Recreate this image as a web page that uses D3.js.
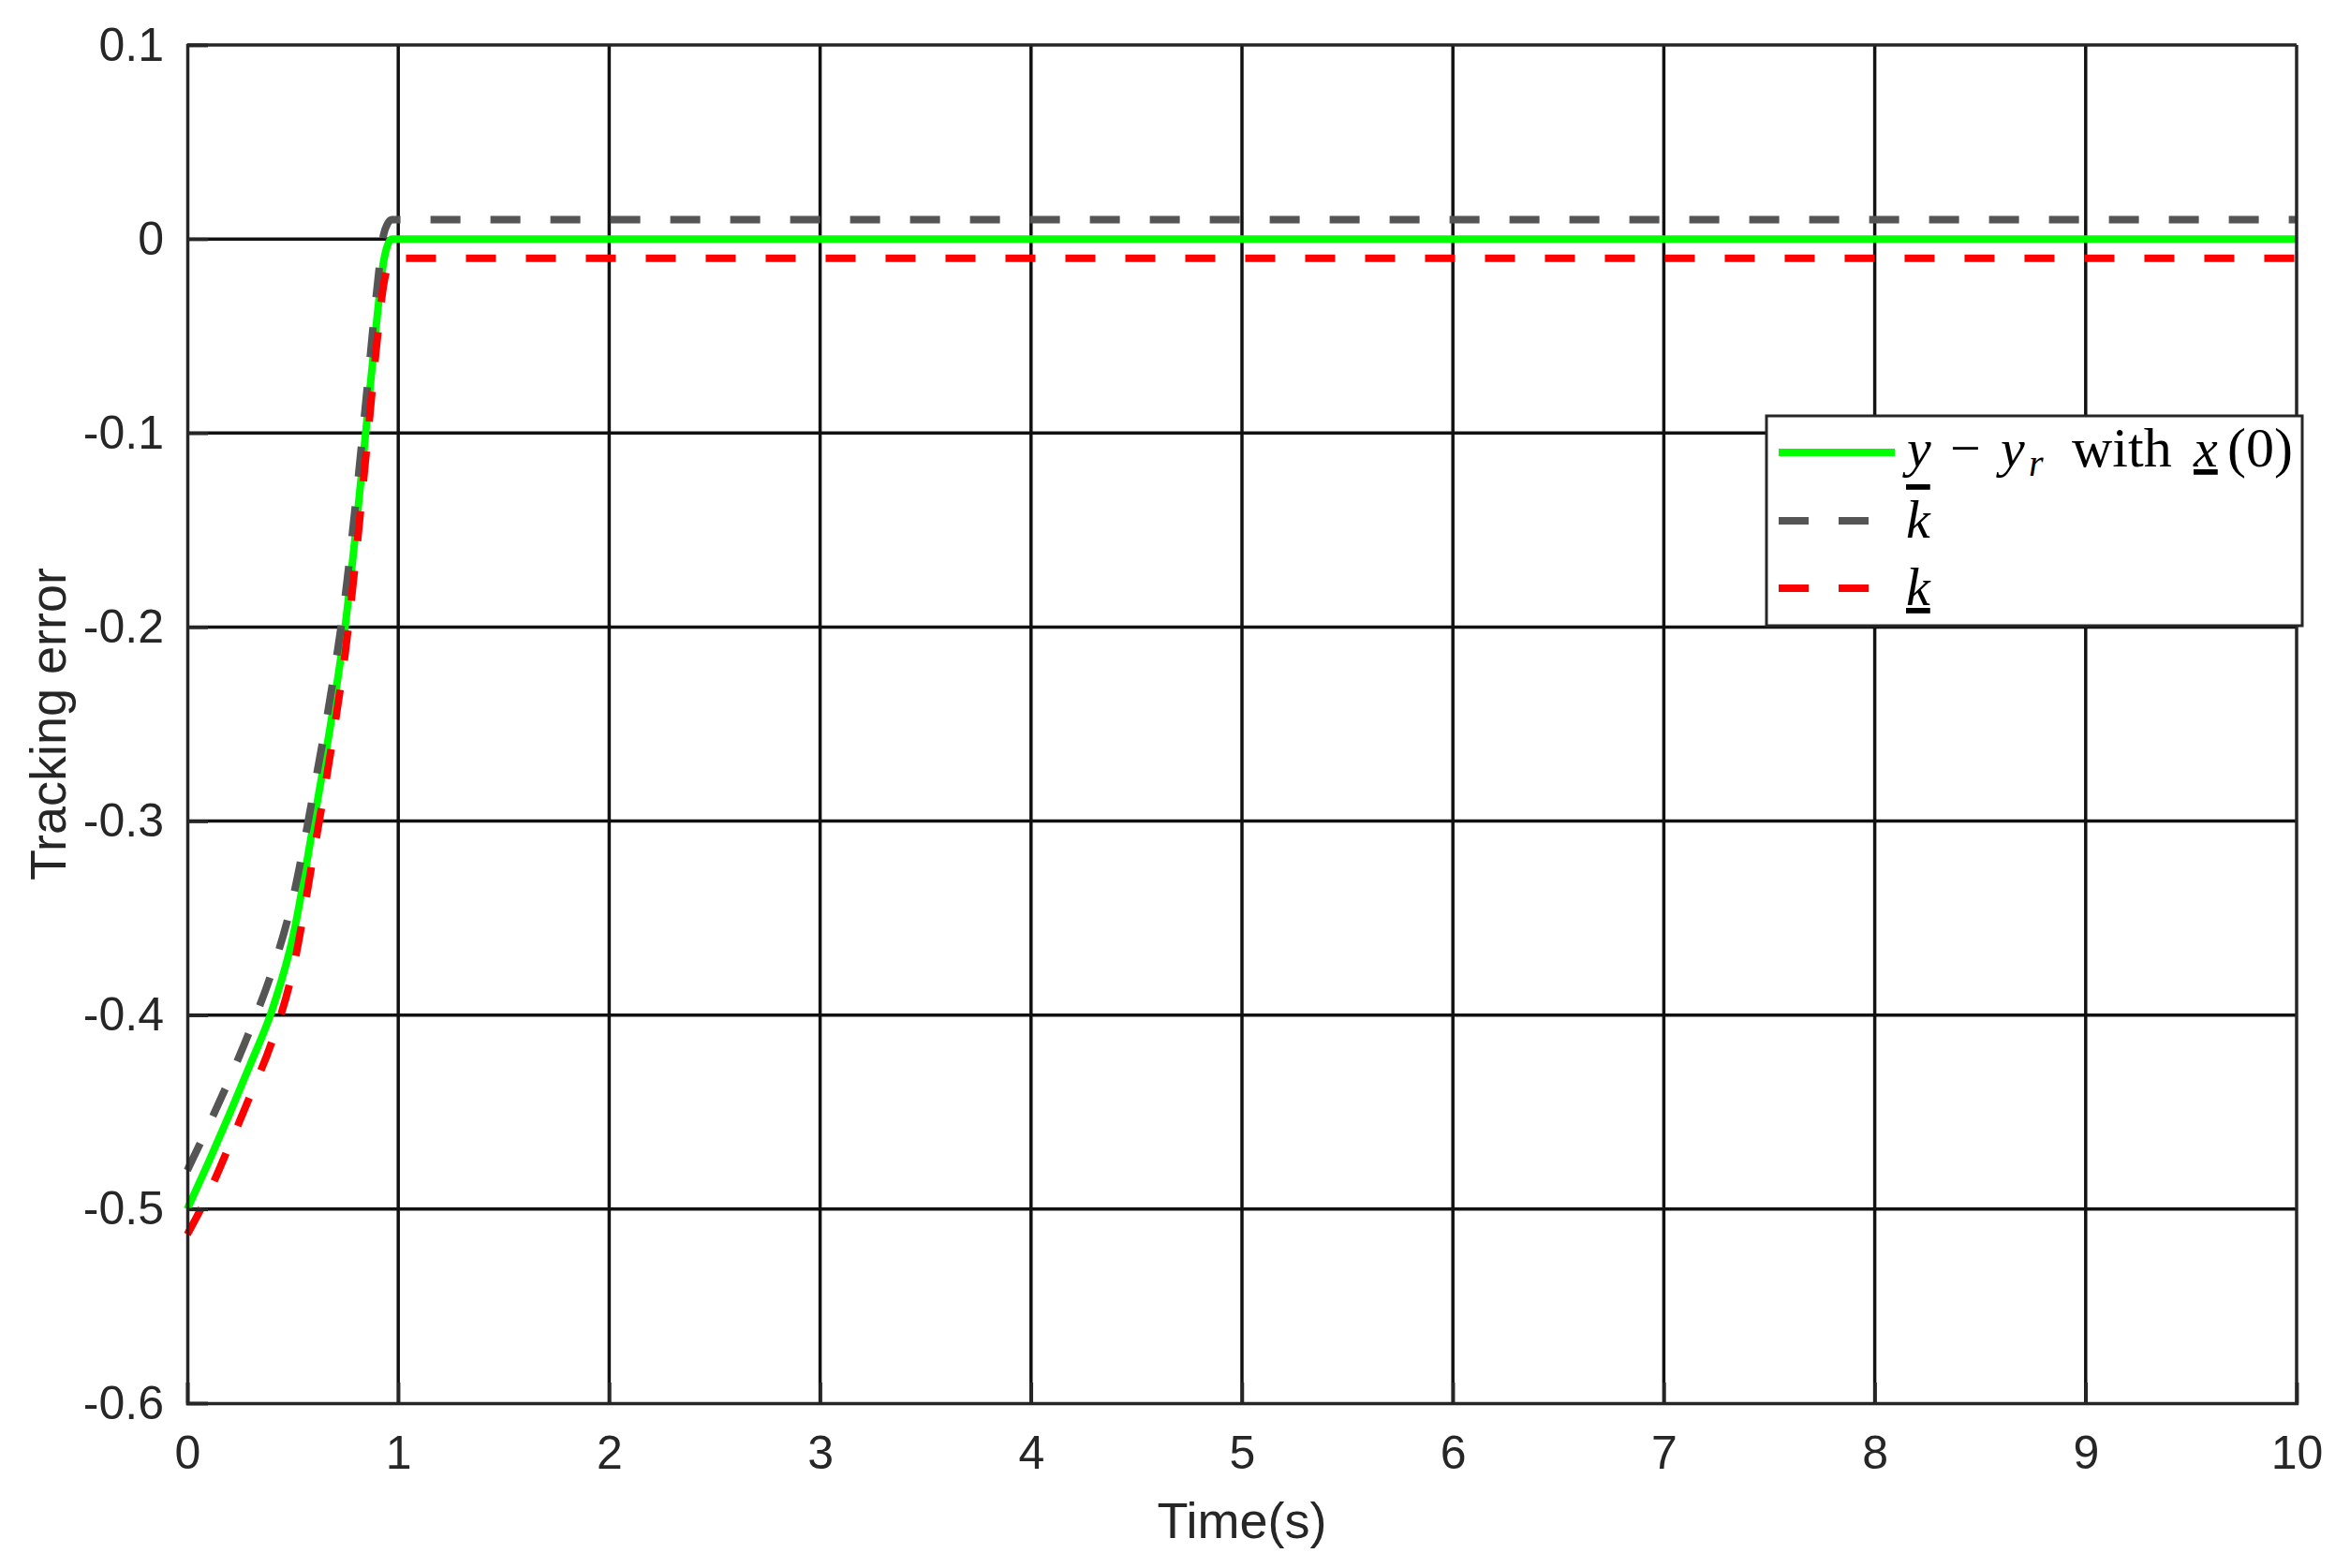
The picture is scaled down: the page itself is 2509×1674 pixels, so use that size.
<!DOCTYPE html>
<html>
<head>
<meta charset="utf-8">
<script src="https://cdn.jsdelivr.net/npm/d3@7"></script>
<style>
  body { margin: 0; background: #fff; }
  svg { display: block; }
</style>
</head>
<body>
<div id="chart"></div>
<script>
// time samples (s) and the three traces
const timeVals = [0, 0.1, 0.2, 0.3, 0.4, 0.5, 0.6, 0.7, 0.75, 0.8, 0.85, 0.9, 0.93, 0.95, 0.97, 10];
const errVals   = [-0.5, -0.476, -0.451, -0.425, -0.398, -0.36, -0.3, -0.236, -0.198, -0.149, -0.095, -0.04, -0.012, -0.003, 0, 0];
const upperVals = [-0.48, -0.457, -0.433, -0.407, -0.378, -0.34, -0.284, -0.221, -0.183, -0.134, -0.08, -0.025, 0.002, 0.008, 0.01, 0.01];
const lowerVals = [-0.513, -0.492, -0.467, -0.441, -0.414, -0.377, -0.316, -0.25, -0.212, -0.163, -0.108, -0.052, -0.024, -0.014, -0.01, -0.01];

const xTicks = [0, 1, 2, 3, 4, 5, 6, 7, 8, 9, 10];
const yTicks = [0.1, 0, -0.1, -0.2, -0.3, -0.4, -0.5, -0.6];

const width = 2509;
const height = 1674;
const margin = {left: 200, right: 57, top: 48, bottom: 176};

const axisColor = '#262626';
const gridColor = '#111';

const svg = d3.select('#chart')
    .append('svg')
        .attr('width', width)
        .attr('height', height);

const x = d3.scaleLinear().domain([0, 10]).range([margin.left, width - margin.right]);
const y = d3.scaleLinear().domain([-0.6, 0.1]).range([height - margin.bottom, margin.top]);

// grid
svg.append('g')
    .selectAll('line')
    .data(xTicks.slice(1, -1))
    .enter()
    .append('line')
        .attr('x1', d => x(d)).attr('x2', d => x(d))
        .attr('y1', y(0.1)).attr('y2', y(-0.6))
        .attr('stroke', gridColor)
        .attr('stroke-width', 3.5);

svg.append('g')
    .selectAll('line')
    .data(yTicks.slice(1, -1))
    .enter()
    .append('line')
        .attr('x1', x(0)).attr('x2', x(10))
        .attr('y1', d => y(d)).attr('y2', d => y(d))
        .attr('stroke', gridColor)
        .attr('stroke-width', 3.5);

// series
const series = [
    {name: 'err', vals: errVals, color: '#00ff00', dash: null},
    {name: 'upper', vals: upperVals, color: '#555555', dash: '32,32'},
    {name: 'lower', vals: lowerVals, color: '#ff0000', dash: '32,32'}
];

const line = d3.line()
    .x(d => x(d[0]))
    .y(d => y(d[1]))
    .curve(d3.curveMonotoneX);

svg.append('g')
    .selectAll('path')
    .data(series)
    .enter()
    .append('path')
        .attr('d', s => line(timeVals.map((t, i) => [t, s.vals[i]])))
        .attr('fill', 'none')
        .attr('stroke', s => s.color)
        .attr('stroke-width', 8)
        .attr('stroke-dasharray', s => s.dash);

// axes box and ticks
const xAxis = d3.axisBottom(x).tickValues(xTicks).tickSize(-22).tickPadding(34).tickFormat(d3.format('d'));
const yAxis = d3.axisLeft(y).tickValues(yTicks).tickSize(-22).tickPadding(25).tickFormat(d => d === 0 ? '0' : d3.format('.1f')(d).replace('−', '-'));

const gx = svg.append('g')
    .attr('transform', `translate(0,${y(-0.6)})`)
    .call(xAxis);
const gy = svg.append('g')
    .attr('transform', `translate(${x(0)},0)`)
    .call(yAxis);

[gx, gy].forEach(g => {
    g.select('.domain').attr('stroke', axisColor).attr('stroke-width', 3.5);
    g.selectAll('.tick line').attr('stroke', axisColor).attr('stroke-width', 3.5);
    g.selectAll('.tick text')
        .attr('fill', axisColor)
        .style('font-family', 'Liberation Sans, Arial, sans-serif')
        .style('font-size', '50px');
});
gx.selectAll('.tick text').attr('dy', '0.71em');

// top and right edges
svg.append('line')
    .attr('x1', x(0)).attr('x2', x(10)).attr('y1', y(0.1)).attr('y2', y(0.1))
    .attr('stroke', axisColor).attr('stroke-width', 3.5);
svg.append('line')
    .attr('x1', x(10)).attr('x2', x(10)).attr('y1', y(0.1)).attr('y2', y(-0.6))
    .attr('stroke', axisColor).attr('stroke-width', 3.5);

// axis titles
svg.append('text')
    .attr('x', (x(0) + x(10)) / 2)
    .attr('y', 1642)
    .attr('text-anchor', 'middle')
    .attr('fill', axisColor)
    .style('font-family', 'Liberation Sans, Arial, sans-serif')
    .style('font-size', '54px')
    .text('Time(s)');

svg.append('text')
    .attr('transform', `translate(70,${(y(0.1) + y(-0.6)) / 2}) rotate(-90)`)
    .attr('text-anchor', 'middle')
    .attr('fill', axisColor)
    .style('font-family', 'Liberation Sans, Arial, sans-serif')
    .style('font-size', '54px')
    .text('Tracking error');

// legend
const lg = svg.append('g');
lg.append('rect')
    .attr('x', 1886).attr('y', 444)
    .attr('width', 572).attr('height', 224)
    .attr('fill', '#fff')
    .attr('stroke', axisColor)
    .attr('stroke-width', 3);

const legendRows = [483, 556, 628];
series.forEach((s, i) => {
    lg.append('line')
        .attr('x1', 1899).attr('x2', 2023)
        .attr('y1', legendRows[i]).attr('y2', legendRows[i])
        .attr('stroke', s.color)
        .attr('stroke-width', 8)
        .attr('stroke-dasharray', s.dash);
});

// first legend label, set piece by piece like the LaTeX original
const serif = 'Liberation Serif, Times New Roman, serif';
const pieces = [
    {x: 2036, t: 'y', italic: true},
    {x: 2082, t: '−'},
    {x: 2136, t: 'y', italic: true},
    {x: 2166, t: 'r', italic: true, size: 40, dy: 10},
    {x: 2212, t: 'with', size: 60},
    {x: 2342, t: 'x', italic: true, under: true},
    {x: 2378, t: '(0)', size: 60}
];
pieces.forEach(p => {
    lg.append('text')
        .attr('x', p.x).attr('y', 498 + (p.dy || 0))
        .attr('fill', '#000')
        .style('font-family', serif)
        .style('font-size', (p.size || 58) + 'px')
        .style('font-style', p.italic ? 'italic' : 'normal')
        .style('text-decoration', p.under ? 'underline' : null)
        .text(p.t);
});

lg.append('text')
    .attr('x', 2035).attr('y', legendRows[1] + 18)
    .attr('fill', '#000')
    .style('font-family', serif)
    .style('font-size', '58px')
    .style('font-style', 'italic')
    .style('text-decoration', 'overline')
    .text('k');

lg.append('text')
    .attr('x', 2035).attr('y', legendRows[2] + 18)
    .attr('fill', '#000')
    .style('font-family', serif)
    .style('font-size', '58px')
    .style('font-style', 'italic')
    .style('text-decoration', 'underline')
    .text('k');
</script>
</body>
</html>
